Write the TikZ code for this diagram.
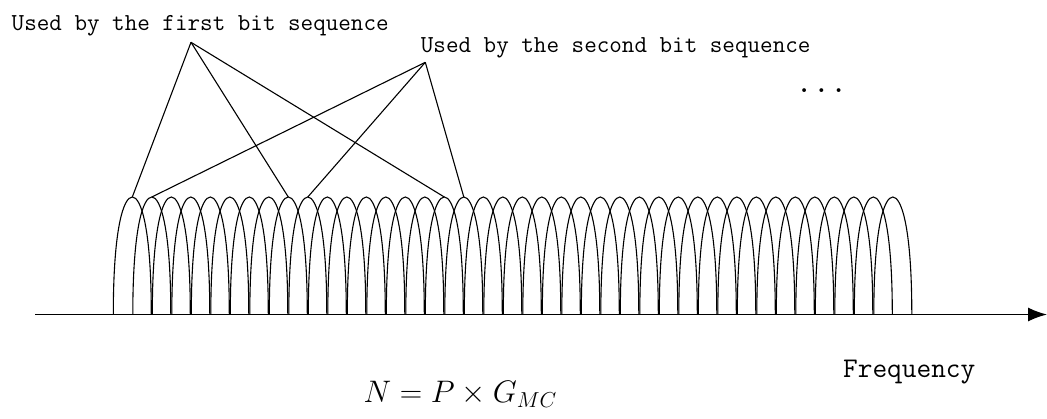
\documentclass[tikz,border=0pt]{standalone}
\usetikzlibrary{arrows.meta}
\tikzset{
    lobe/.style={line width=1.1pt, black},
    leader/.style={line width=1.1pt, black},
    usage/.style={inner sep=0pt, anchor=base west, font=\ttfamily\fontsize{24.4}{28}\selectfont}
}
\begin{document}
\begin{tikzpicture}[x=1pt, y=-1pt]
        \useasboundingbox (0,0) rectangle (1047,418);
        % Axe des fréquences
        \draw[line width=1.4pt, -{Latex[length=19pt, width=14pt]}] (35,314.5) -- (1047,314.5);
        \node[inner sep=0pt, anchor=base west, font=\ttfamily\fontsize{28.5}{32}\selectfont] (freq) at (843,377.7) {Frequency};
        % Sous-porteuses (40 lobes)
        \foreach \k in {0,...,39} {
            \pgfmathsetmacro{\cx}{132.3+19.5*\k}
            \draw[lobe] (\cx-19,314.5) .. controls (\cx-19,226.7) and (\cx-8.5,197) .. (\cx,197)
                .. controls (\cx+8.5,197) and (\cx+19,226.7) .. (\cx+19,314.5);
            \coordinate (p\k) at (\cx,197);
        }
        % Etiquettes
        \node[usage] (first) at (11.5,30.5) {Used by the first bit sequence};
        \node[usage] (second) at (420.7,52.3) {Used by the second bit sequence};
        \coordinate (a1) at (191,42.3);
        \coordinate (a2) at (425.3,62.3);
        \foreach \k in {0,8,16} {
            \draw[leader] (a1) -- (p\k);
        }
        \foreach \k in {1,9,17} {
            \draw[leader] (a2) -- (p\k);
        }
        \node[inner sep=0pt, anchor=base, scale=1.9, font=\fontsize{20}{24}\selectfont] (dots) at (821.5,92.5) {$\ldots$};
        % Nombre de sous-porteuses
        \node[inner sep=0pt, anchor=base west, scale=1.5, font=\fontsize{20}{24}\selectfont] (formula) at (363.3,402.7) {$N = P \times G_{MC}$};
    \end{tikzpicture}
\end{document}
